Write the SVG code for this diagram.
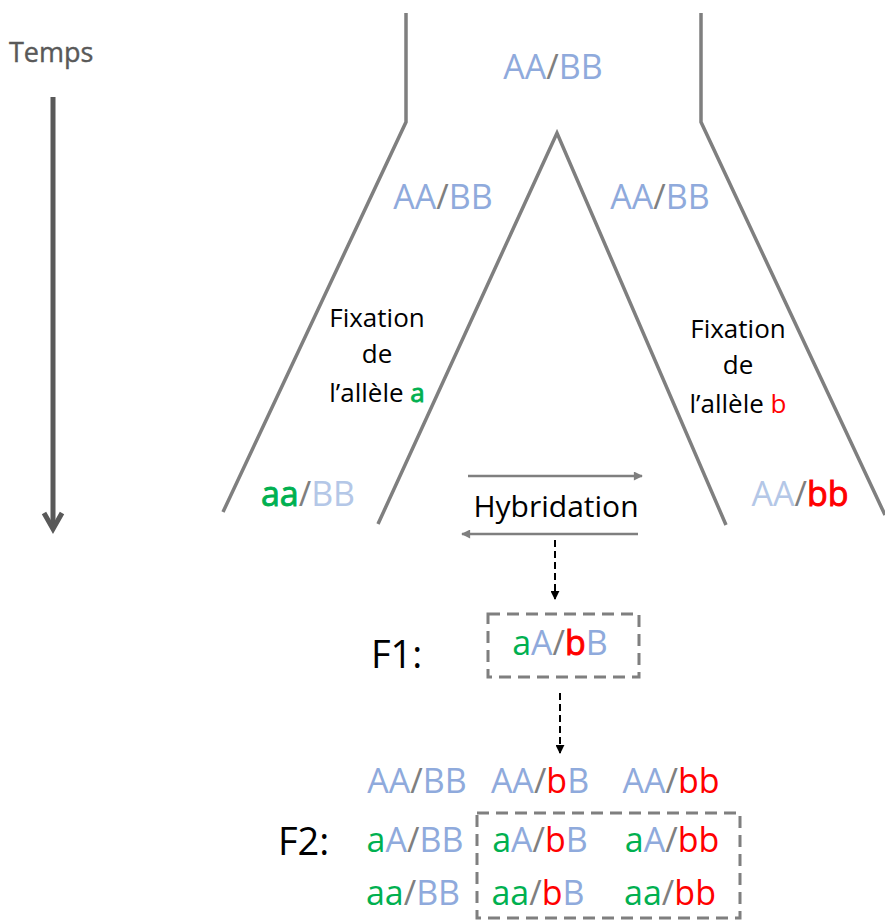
<svg xmlns="http://www.w3.org/2000/svg" width="885" height="920" viewBox="0 0 885 920">
<defs>
<style>
text{font-family:"Open Sans","Liberation Sans",sans-serif;}
.g{font-size:34px;text-anchor:middle;}
.f{font-size:26px;text-anchor:middle;fill:#000;}
.F{font-size:38px;fill:#000;}
.bl{fill:#8faadc;}
.lb{fill:#b4c7e7;}
.gr{fill:#00b050;}
.rd{fill:#ff0000;}
.sl{fill:#7f7f7f;}
.sgr{fill:#00b050;stroke:#00b050;stroke-width:0.9;}
.srd{fill:#ff0000;stroke:#ff0000;stroke-width:0.9;}
.tree{fill:none;stroke:#7f7f7f;stroke-width:3.5;stroke-linejoin:miter;}
.hyb{fill:none;stroke:#7f7f7f;stroke-width:2.5;}
.dash{fill:none;stroke:#000;stroke-width:2;stroke-dasharray:7 4;}
.box{fill:none;stroke:#7f7f7f;stroke-width:3;stroke-dasharray:12 7;}
</style>
<marker id="ah" viewBox="0 0 10 10" refX="9" refY="5" markerWidth="10" markerHeight="9" orient="auto" markerUnits="userSpaceOnUse">
<path d="M0,0 L10,5 L0,10 z" fill="#7f7f7f"/>
</marker>
<marker id="ahb" viewBox="0 0 10 10" refX="9" refY="5" markerWidth="9" markerHeight="9" orient="auto" markerUnits="userSpaceOnUse">
<path d="M0,0 L10,5 L0,10 z" fill="#000"/>
</marker>
</defs>

<g id="time">
<text x="9" y="62" font-size="27" fill="#595959" stroke="#595959" stroke-width="0.4">Temps</text>
<line x1="53" y1="97" x2="53" y2="528" stroke="#595959" stroke-width="5"/>
<polyline points="44,513 53,529 62,513" fill="none" stroke="#595959" stroke-width="5" stroke-linejoin="miter"/>
</g>

<g id="connectors">
<polyline class="tree" points="406,13 406,122 223,512"/>
<polyline class="tree" points="701,13 701,122 885,515"/>
<polyline class="tree" points="378,524 557,133 726,525"/>
<line class="hyb" x1="468" y1="476" x2="642" y2="476" marker-end="url(#ah)"/>
<line class="hyb" x1="638" y1="534" x2="462" y2="534" marker-end="url(#ah)"/>
<line class="dash" x1="555" y1="540" x2="555" y2="599" marker-end="url(#ahb)"/>
<line class="dash" x1="560" y1="693" x2="560" y2="753" marker-end="url(#ahb)"/>
</g>

<g id="ancestor">
<text class="g" x="553" y="79"><tspan class="bl">AA</tspan><tspan class="sl">/</tspan><tspan class="bl">BB</tspan></text>
</g>
<g id="left-branch">
<text class="g" x="443" y="209"><tspan class="bl">AA</tspan><tspan class="sl">/</tspan><tspan class="bl">BB</tspan></text>
<text class="f" x="377" y="327">Fixation</text>
<text class="f" x="377" y="363">de</text>
<text class="f" x="377" y="402">l’allèle <tspan class="sgr">a</tspan></text>
<text class="g" x="308" y="506"><tspan class="sgr">aa</tspan><tspan class="sl">/</tspan><tspan class="lb">BB</tspan></text>
</g>
<g id="right-branch">
<text class="g" x="660" y="209"><tspan class="bl">AA</tspan><tspan class="sl">/</tspan><tspan class="bl">BB</tspan></text>
<text class="f" x="738" y="338">Fixation</text>
<text class="f" x="738" y="374">de</text>
<text class="f" x="738" y="413">l’allèle <tspan class="rd">b</tspan></text>
<text class="g" x="800" y="506"><tspan class="lb">AA</tspan><tspan class="sl">/</tspan><tspan class="srd">bb</tspan></text>
</g>
<g id="hybridation">
<text x="556" y="517" font-size="30" text-anchor="middle" fill="#000">Hybridation</text>
</g>
<g id="f1">
<text class="F" x="371" y="668">F1:</text>
<rect class="box" x="488" y="614" width="151" height="63"/>
<text class="g" x="560" y="655"><tspan class="gr">a</tspan><tspan class="bl">A</tspan><tspan class="sl">/</tspan><tspan class="srd">b</tspan><tspan class="bl">B</tspan></text>
</g>
<g id="f2">
<text class="F" x="278" y="855">F2:</text>
<rect class="box" x="477" y="813" width="263" height="105"/>
<text class="g" x="417" y="793"><tspan class="bl">AA</tspan><tspan class="sl">/</tspan><tspan class="bl">BB</tspan></text>
<text class="g" x="540" y="793"><tspan class="bl">AA</tspan><tspan class="sl">/</tspan><tspan class="rd">b</tspan><tspan class="bl">B</tspan></text>
<text class="g" x="671" y="793"><tspan class="bl">AA</tspan><tspan class="sl">/</tspan><tspan class="rd">bb</tspan></text>
<text class="g" x="415" y="852"><tspan class="gr">a</tspan><tspan class="bl">A</tspan><tspan class="sl">/</tspan><tspan class="bl">BB</tspan></text>
<text class="g" x="540" y="852"><tspan class="gr">a</tspan><tspan class="bl">A</tspan><tspan class="sl">/</tspan><tspan class="rd">b</tspan><tspan class="bl">B</tspan></text>
<text class="g" x="672" y="852"><tspan class="gr">a</tspan><tspan class="bl">A</tspan><tspan class="sl">/</tspan><tspan class="rd">bb</tspan></text>
<text class="g" x="413" y="905"><tspan class="gr">aa</tspan><tspan class="sl">/</tspan><tspan class="bl">BB</tspan></text>
<text class="g" x="538" y="905"><tspan class="gr">aa</tspan><tspan class="sl">/</tspan><tspan class="rd">b</tspan><tspan class="bl">B</tspan></text>
<text class="g" x="670" y="905"><tspan class="gr">aa</tspan><tspan class="sl">/</tspan><tspan class="rd">bb</tspan></text>
</g>
</svg>
